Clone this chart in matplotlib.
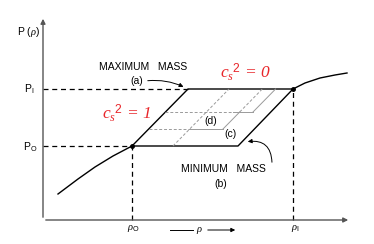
import matplotlib.pyplot as plt

plt.rcParams['mathtext.fontset'] = 'custom'
plt.rcParams['mathtext.it'] = 'Liberation Serif:italic'
plt.rcParams['mathtext.rm'] = 'Liberation Sans'

# schematic data (arbitrary units: rho along x, P along y)
rho0, rho1 = 89, 250
P0, P1 = 74, 131
shift = 56  # horizontal offset of the c_s^2 = 1 edges

# equation of state outside the transition region
low_rho = [15, 35, 52, 70, 89]
low_P = [26, 41, 53, 64, 74]
high_rho = [250, 262, 277, 292, 304]
high_P = [131, 137, 142, 145, 147]

# inner paths (gray)
mid_P = [91, 108]
solid_start = [147, 190]
step_end = [180, 210]
dash_offset = 41

fig = plt.figure(figsize=(3.74, 2.44), dpi=100)
ax = fig.add_axes([0, 0, 1, 1])
ax.set_xlim(-43, 331)
ax.set_ylim(-24, 220)
ax.axis('off')

k = dict(color='black', lw=1.0)
dsh = dict(color='black', lw=0.9, ls=(0, (4, 3)))
gry = dict(color='#9a9a9a', lw=0.7)
gdsh = dict(color='#9a9a9a', lw=0.7, ls=(0, (3, 2)))

# axes with arrows
ax.annotate('', xy=(0, 204), xytext=(0, 0),
            arrowprops=dict(arrowstyle='-|>', color='#555555', lw=1.0, mutation_scale=7))
ax.annotate('', xy=(308, 0), xytext=(0, 0),
            arrowprops=dict(arrowstyle='-|>', color='#555555', lw=1.0, mutation_scale=7))

# EOS curves
ax.plot(low_rho, low_P, **k)
ax.plot(high_rho, high_P, **k)
ax.plot([rho0, rho1], [P0, P1], 'o', color='black', ms=2.5)

# dashed guides
ax.plot([0, rho0], [P0, P0], **dsh)
ax.plot([0, rho1 - 105], [P1, P1], **dsh)
ax.plot([rho0, rho0], [0, P0], **dsh)
ax.plot([rho1, rho1], [0, P1], **dsh)

# outer parallelogram
ax.plot([rho0, rho1 - shift + 1, rho1, rho0 + shift, rho0],
        [P0, P0, P1, P1, P0], **k)

# inner staircase paths
slope = shift / (P1 - P0)
for i, (Pm, x_solid, x_end) in enumerate(zip(mid_P, solid_start, step_end)):
    x_left = rho0 + (Pm - P0) * slope
    ax.plot([x_left, x_solid], [Pm, Pm], **gdsh)
    ax.plot([x_solid, x_end], [Pm, Pm], **gry)
    x_top = x_end + (P1 - Pm) * slope
    if i == 0:
        # solid up to the upper step, dashed above it
        x_mid = x_end + (mid_P[1] - Pm) * slope
        ax.plot([x_end, x_mid], [Pm, mid_P[1]], **gry)
        ax.plot([x_mid, x_top], [mid_P[1], P1], **gdsh)
    else:
        ax.plot([x_end, x_top], [Pm, P1], **gry)
ax.plot([rho0 + dash_offset, rho0 + dash_offset + shift], [P0, P1], **gdsh)

# labels
lab = dict(fontsize=7.5, family='Liberation Sans', color='black')
ax.text(-14, 188, r'P ($\rho$)', ha='center', va='center', **lab)
ax.text(-14, 131, r'P$_{\mathrm{I}}$', ha='center', va='center', **lab)
ax.text(-13, 73, r'P$_{\mathrm{O}}$', ha='center', va='center', **lab)
ax.text(rho0 + 1, -9, r'$\rho_{\mathrm{O}}$', ha='center', va='center', **lab)
ax.text(rho1 + 2, -9, r'$\rho_{\mathrm{I}}$', ha='center', va='center', **lab)
ax.plot([127, 150], [-10, -10], color='black', lw=0.7)
ax.text(156, -10, r'$\rho$', ha='center', va='center', **lab)
ax.annotate('', xy=(195, -10), xytext=(162, -10),
            arrowprops=dict(arrowstyle='-|>', color='black', lw=0.7, mutation_scale=6))

ax.text(100, 153, 'MAXIMUM   MASS', ha='center', va='center', **lab)
ax.text(94, 139, '(a)', ha='center', va='center', **lab)
ax.annotate('', xy=(143, 132), xytext=(102, 139),
            arrowprops=dict(arrowstyle='-|>', color='black', lw=0.7, mutation_scale=6,
                            connectionstyle='arc3,rad=-0.15'))
ax.text(180, 51, 'MINIMUM   MASS', ha='center', va='center', **lab)
ax.text(178, 36, '(b)', ha='center', va='center', **lab)
ax.annotate('', xy=(202, 78), xytext=(229, 55),
            arrowprops=dict(arrowstyle='-|>', color='black', lw=0.7, mutation_scale=6,
                            connectionstyle='arc3,rad=0.6'))
ax.text(188, 86, '(c)', ha='center', va='center', **lab)
ax.text(168, 99, '(d)', ha='center', va='center', **lab)

red = '#e8262a'
rt = dict(ha='center', va='center', color=red, fontsize=12.5,
          family='Liberation Serif', style='italic')
ax.text(203, 148, r'$c_s{}^2$ = 0', **rt)
ax.text(84, 107, r'$c_s{}^2$ = 1', **rt)

fig.savefig('out.png', dpi=100)
